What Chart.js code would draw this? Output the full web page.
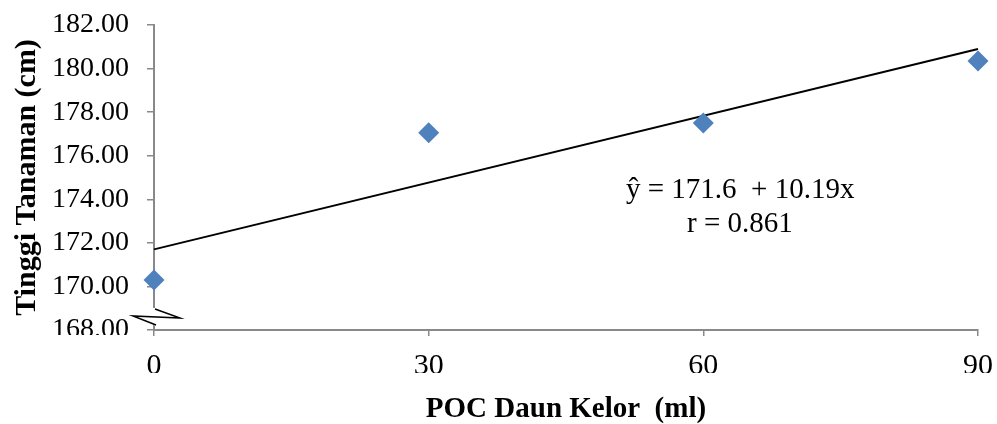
<!DOCTYPE html>
<html>
<head>
<meta charset="utf-8">
<script src="https://cdn.jsdelivr.net/npm/chart.js@4.4.1/dist/chart.umd.min.js"></script>
<style>
  body { margin: 0; background: #fff; }
  #wrap { width: 997px; height: 424px; }
</style>
</head>
<body>
<div id="wrap"><canvas id="chart" width="997" height="424"></canvas></div>
<script>
// data
const dosis = [0, 30, 60, 90];
const tinggi = [170.3, 177.05, 177.5, 180.35];
const trendX = [0, 90];
const trendY = [171.7, 180.9];
const xTicks = [0, 30, 60, 90];
const yMin = 168, yMax = 182, yStep = 2;

const serif = 'Liberation Serif, Times New Roman, serif';

// equation text, the axis break and the clipped label edges
const extras = {
    id: 'extras',
    afterDraw(chart) {
        const ctx = chart.ctx;
        const area = chart.chartArea;
        const x0 = area.left, b = area.bottom;
        ctx.save();
        // labels cut off at the bottom like in the source image
        ctx.fillStyle = '#fff';
        ctx.fillRect(0, 373, chart.width, 22);
        ctx.fillRect(40, b + 5, x0 - 60, 12);
        // break mark on the y axis
        ctx.fillRect(x0 - 23, b - 22, 51, 17);
        ctx.strokeStyle = '#000';
        ctx.lineWidth = 1.5;
        ctx.beginPath();
        ctx.moveTo(x0 + 1, b - 21);
        ctx.lineTo(x0 + 26, b - 12);
        ctx.lineTo(x0 - 21, b - 14);
        ctx.lineTo(x0 + 2, b - 5);
        ctx.stroke();
        ctx.strokeStyle = '#898989';
        ctx.lineWidth = 2;
        ctx.beginPath();
        ctx.moveTo(x0, b - 5);
        ctx.lineTo(x0, b);
        ctx.stroke();
        // equation
        ctx.fillStyle = '#000';
        ctx.font = '29px ' + serif;
        ctx.textBaseline = 'alphabetic';
        ctx.textAlign = 'left';
        ctx.fillText('\u0177 = 171.6  + 10.19x', 626, 198);
        ctx.fillText('r = 0.861', 687, 232);
        ctx.restore();
    }
};

const ctx = document.getElementById('chart');
new Chart(ctx, {
    type: 'scatter',
    data: {
        datasets: [
            {
                label: 'Tinggi',
                data: dosis.map((x, i) => ({ x: x, y: tinggi[i] })),
                pointStyle: 'rectRot',
                pointRadius: 10.5,
                pointHoverRadius: 10.5,
                backgroundColor: '#4F81BD',
                borderColor: '#4F81BD',
                borderWidth: 0,
                clip: false,
                order: 0
            },
            {
                type: 'line',
                label: 'Trend',
                data: trendX.map((x, i) => ({ x: x, y: trendY[i] })),
                borderColor: '#000',
                borderWidth: 2,
                pointRadius: 0,
                fill: false,
                clip: false,
                order: 1
            }
        ]
    },
    options: {
        responsive: false,
        animation: false,
        layout: {
            padding: { top: 25, right: 19, left: 0, bottom: 0 }
        },
        plugins: {
            legend: { display: false },
            tooltip: { enabled: false }
        },
        scales: {
            x: {
                type: 'linear',
                min: 0,
                max: 90,
                afterBuildTicks: (scale) => {
                    scale.ticks = xTicks.map(v => ({ value: v }));
                },
                afterFit: (scale) => {
                    scale.height = 94;
                    scale.paddingLeft = 0;
                    scale.paddingRight = 0;
                },
                border: { color: '#898989', width: 2 },
                grid: { drawOnChartArea: false, tickLength: 6, color: '#898989', lineWidth: 1.5 },
                ticks: {
                    color: '#000',
                    font: { family: serif, size: 30 },
                    padding: 12,
                    maxRotation: 0
                },
                title: {
                    display: true,
                    text: 'POC Daun Kelor  (ml)',
                    color: '#000',
                    font: { family: serif, size: 29, weight: 'bold', lineHeight: 1 },
                    padding: { top: 0, bottom: 0 }
                }
            },
            y: {
                min: yMin,
                max: yMax,
                afterFit: (scale) => {
                    scale.width = 154;
                    scale.paddingTop = 0;
                    scale.paddingBottom = 0;
                },
                border: { color: '#898989', width: 2 },
                grid: { drawOnChartArea: false, tickLength: 7, color: '#898989', lineWidth: 1.5 },
                ticks: {
                    stepSize: yStep,
                    color: '#000',
                    font: { family: serif, size: 28 },
                    padding: 18,
                    callback: (v) => v.toFixed(2)
                },
                title: {
                    display: true,
                    text: 'Tinggi Tanaman (cm)',
                    color: '#000',
                    font: { family: serif, size: 30, weight: 'bold', lineHeight: 1 },
                    padding: { top: 12, bottom: 0 }
                }
            }
        }
    },
    plugins: [extras]
});
</script>
</body>
</html>
